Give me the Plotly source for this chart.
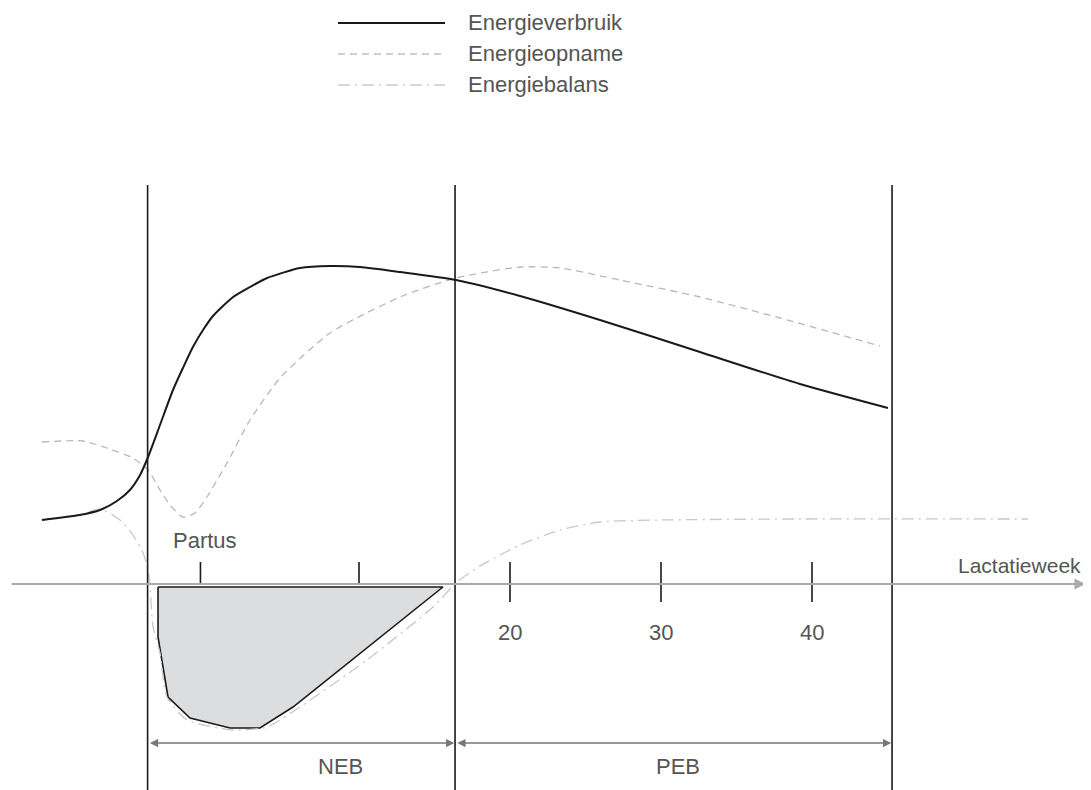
import plotly.graph_objects as go

# ---------------- data (weeks relative to calving, arbitrary energy units) ----------------
verbruik_week = [-11.0, -8.5, -7.15, -6.03, -5.17, -4.5, -3.97, -3.18, -2.32, -1.66, -1.0, -0.33,
                 0.33, 1.66, 2.78, 3.91, 6.09, 8.08, 10.07, 12.72, 16.42, 20.66, 25.96, 32.58, 39.2, 45.03]
verbruik_val = [6.4, 6.9, 7.4, 8.3, 9.4, 10.9, 12.7, 15.9, 19.4, 21.6, 23.7, 25.4,
                26.8, 28.7, 29.7, 30.6, 31.6, 31.8, 31.7, 31.2, 30.4, 28.8, 26.4, 23.2, 20.0, 17.6]

opname_week = [-11.0, -8.28, -6.49, -4.97, -3.97, -3.18, -2.52, -1.66, -0.86, -0.07, 1.26, 2.78,
               4.77, 8.08, 12.72, 16.42, 20.66, 23.31, 27.28, 32.58, 37.88, 44.5]
opname_val = [14.2, 14.3, 13.5, 12.6, 11.4, 9.4, 7.9, 6.7, 7.1, 8.7, 12.1, 16.4,
              20.6, 25.1, 28.7, 30.6, 31.7, 31.6, 30.4, 28.7, 26.6, 23.8]

balans_week = [-11.0, -8.48, -7.15, -5.83, -4.97, -4.3, -3.97, -3.84, -3.64, -3.18, -2.72, -1.39,
               1.66, 3.91, 6.09, 10.53, 14.9, 16.49, 18.01, 20.66, 23.31, 25.96, 29.93, 39.2, 54.3]
balans_val = [6.4, 6.9, 7.5, 6.4, 4.9, 3.1, 1.4, -0.1, -4.3, -6.9, -11.3, -13.6,
              -14.6, -14.3, -12.3, -7.6, -2.3, 0.2, 1.8, 3.9, 5.4, 6.2, 6.4, 6.5, 6.5]

neb_week = [-3.31, 15.56, 5.63, 3.44, 1.46, -1.19, -2.65, -3.31, -3.31]
neb_val = [-0.3, -0.3, -12.3, -14.4, -14.4, -13.4, -11.3, -5.3, -0.3]

period_bounds = [-4.0, 16.36, 45.3]          # vertical boundary lines
period_labels = ["NEB", "PEB"]
tick_weeks = [-0.5, 10, 20, 30, 40]
tick_labels = ["Partus", "", "20", "30", "40"]
legend_names = ["Energieverbruik", "Energieopname", "Energiebalans"]

# ---------------- layout helpers ----------------
W, H = 1091, 790
OFF = 8  # page body margin in the browser
PX_PER_WEEK = 15.1
X0_PX = 208      # page pixel of week 0
Y0_PX = 584      # page pixel of energy 0
PX_PER_UNIT = 10.0
X_RANGE = [(OFF - X0_PX) / PX_PER_WEEK, (OFF + W - X0_PX) / PX_PER_WEEK]
Y_RANGE = [(Y0_PX - OFF - H) / PX_PER_UNIT, (Y0_PX - OFF) / PX_PER_UNIT]
TXT = "#555555"
FONT = "Liberation Sans, Arial, sans-serif"
FS = 22
PERIOD_LABEL_SHIFT = [39, 4]   # pixel shift of NEB/PEB labels from arrow centre


def px_x(p):
    return (p - OFF) / W


def px_y(p):
    return 1 - (p - OFF) / H


fig = go.Figure()

# NEB shaded area
fig.add_trace(go.Scatter(x=neb_week, y=neb_val, mode="lines", fill="toself",
                         fillcolor="#dcdddf", line=dict(color="#1a1a1a", width=1.6),
                         hoverinfo="skip", showlegend=False))

# curves
fig.add_trace(go.Scatter(x=balans_week, y=balans_val, mode="lines", name=legend_names[2],
                         line=dict(color="#c8c8c8", width=1.3, dash="12px,5px,2px,5px",
                                   shape="spline", smoothing=0.6), showlegend=False))
fig.add_trace(go.Scatter(x=opname_week, y=opname_val, mode="lines", name=legend_names[1],
                         line=dict(color="#b8b8b8", width=1.3, dash="7px,5px",
                                   shape="spline", smoothing=0.6), showlegend=False))
fig.add_trace(go.Scatter(x=verbruik_week, y=verbruik_val, mode="lines", name=legend_names[0],
                         line=dict(color="#1a1a1a", width=2, shape="spline", smoothing=0.6),
                         showlegend=False))

shapes = []
annotations = []

# vertical period boundaries
for xb in period_bounds:
    shapes.append(dict(type="line", xref="x", yref="y", x0=xb, x1=xb, y0=Y_RANGE[0], y1=39.9,
                       line=dict(color="#1a1a1a", width=1.6), layer="above"))

# time axis: grey arrow + dark segment
annotations.append(dict(x=58.1, y=0, ax=-13.1, ay=0, xref="x", yref="y", axref="x", ayref="y",
                        text="", showarrow=True, arrowhead=2, arrowsize=1.2, arrowwidth=1.8,
                        arrowcolor="#aaaaaa", standoff=0, startstandoff=0))
shapes.append(dict(type="line", xref="x", yref="y", x0=-0.15, x1=40, y0=0, y1=0,
                   line=dict(color="#333333", width=2)))

# tick marks and labels
for wk, lab in zip(tick_weeks, tick_labels):
    if wk < 15:
        y0, y1 = 0, 2.2
    else:
        y0, y1 = -1.8, 2.2
    shapes.append(dict(type="line", xref="x", yref="y", x0=wk, x1=wk, y0=y0, y1=y1,
                       line=dict(color="#1a1a1a", width=1.6)))
    if lab == "Partus":
        annotations.append(dict(x=wk, y=4.4, xref="x", yref="y", text=lab, showarrow=False,
                                xshift=5, font=dict(family=FONT, size=FS, color=TXT)))
    elif lab:
        annotations.append(dict(x=wk, y=-4.8, xref="x", yref="y", text=lab, showarrow=False,
                                font=dict(family=FONT, size=FS, color=TXT)))

annotations.append(dict(x=px_x(1083), y=1.9, xref="paper", yref="y", xanchor="right",
                        text="Lactatieweek", showarrow=False,
                        font=dict(family=FONT, size=21, color=TXT)))

# NEB / PEB double arrows and labels
for i, lab in enumerate(period_labels):
    a, b = period_bounds[i] + 0.05, period_bounds[i + 1] - 0.05
    annotations.append(dict(x=b, y=-15.9, ax=a, ay=-15.9, xref="x", yref="y", axref="x", ayref="y",
                            text="", showarrow=True, arrowhead=2, arrowside="end+start",
                            arrowsize=1.1, arrowwidth=1.5, arrowcolor="#777777",
                            standoff=0, startstandoff=0))
    annotations.append(dict(x=(a + b) / 2, y=-18.2, xref="x", yref="y", text=lab,
                            xshift=PERIOD_LABEL_SHIFT[i], showarrow=False,
                            font=dict(family=FONT, size=FS, color=TXT)))

# manual legend (paper coordinates)
leg_styles = [dict(color="#1a1a1a", width=1.8),
              dict(color="#c0c0c0", width=1.3, dash="7px,5px"),
              dict(color="#cccccc", width=1.3, dash="12px,5px,2px,5px")]
leg_y_px = [23, 54, 85]
for name, st, py in zip(legend_names, leg_styles, leg_y_px):
    yp = px_y(py)
    shapes.append(dict(type="line", xref="paper", yref="paper", x0=px_x(338), x1=px_x(445),
                       y0=yp, y1=yp, line=st))
    annotations.append(dict(x=px_x(466), y=yp, xref="paper", yref="paper", xanchor="left",
                            yanchor="middle", text=name, showarrow=False,
                            font=dict(family=FONT, size=FS, color=TXT)))

fig.update_layout(
    width=W, height=H, margin=dict(l=0, r=0, t=0, b=0),
    paper_bgcolor="white", plot_bgcolor="white",
    xaxis=dict(range=X_RANGE, visible=False, fixedrange=True),
    yaxis=dict(range=Y_RANGE, visible=False, fixedrange=True),
    shapes=shapes, annotations=annotations, showlegend=False,
)

fig.write_html("out.html")
